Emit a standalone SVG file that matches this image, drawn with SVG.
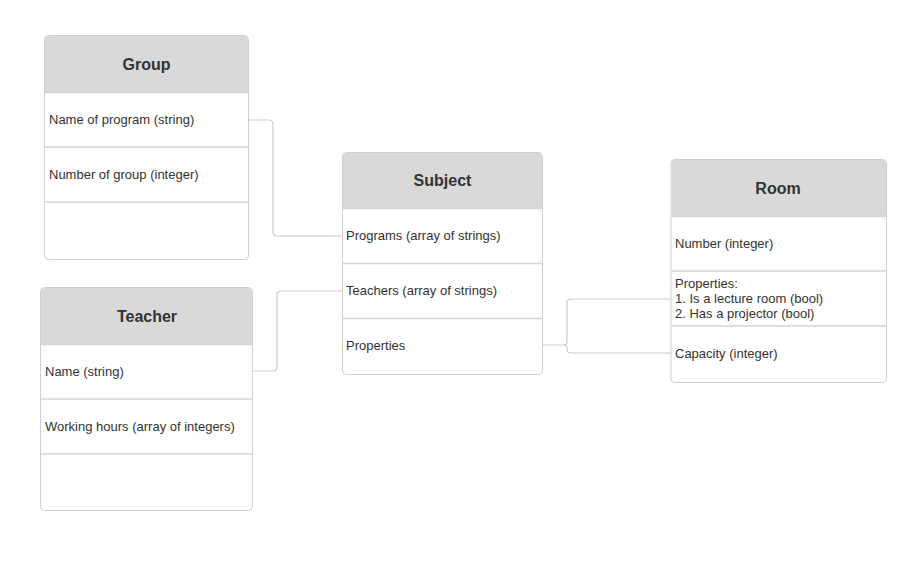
<svg xmlns="http://www.w3.org/2000/svg" width="921" height="571" viewBox="0 0 921 571">
<style>
.box{fill:#ffffff;stroke:#cfcfcf;stroke-width:1}
.hdr{fill:#d9d9d9;stroke:none}
.sep{stroke:#d4d4d4;stroke-width:1.5;fill:none}
.title{font-family:"Liberation Sans",Arial,sans-serif;font-size:16px;font-weight:bold;fill:#333333;text-anchor:middle}
.row{font-family:"Liberation Sans",Arial,sans-serif;font-size:13px;fill:#333333}
.conn{fill:none;stroke:#cccccc;stroke-width:1.2}
</style>
<rect width="921" height="571" fill="#ffffff"/>
<g id="connectors">
<path class="conn" d="M249,120 H269 Q273,120 273,124 V232 Q273,236 277,236 H342"/>
<path class="conn" d="M252.5,371 H273 Q277,371 277,367 V295 Q277,291 281,291 H342"/>
<path class="conn" d="M543,345 H564 Q567,345 567,342 V303 Q567,299 571,299 H671"/>
<path class="conn" d="M564,345 Q567,345 567,348 V349 Q567,353 571,353 H671"/>
</g>
<g id="group">
<rect class="box" x="44.5" y="35.5" width="204" height="224" rx="4"/>
<path class="hdr" d="M45,92 V40 Q45,36 49,36 H244 Q248,36 248,40 V92 Z"/>
<line class="sep" x1="45" y1="92.5" x2="248" y2="92.5"/>
<line class="sep" x1="45" y1="147" x2="248" y2="147"/>
<line class="sep" x1="45" y1="202" x2="248" y2="202"/>
<text class="title" x="146.5" y="70">Group</text>
<text class="row" x="49" y="123.5">Name of program (string)</text>
<text class="row" x="49" y="178.5">Number of group (integer)</text>
</g>
<g id="teacher">
<rect class="box" x="40.5" y="287.5" width="212" height="223" rx="4"/>
<path class="hdr" d="M41,344 V292 Q41,288 45,288 H248 Q252,288 252,292 V344 Z"/>
<line class="sep" x1="41" y1="344.5" x2="252" y2="344.5"/>
<line class="sep" x1="41" y1="399" x2="252" y2="399"/>
<line class="sep" x1="41" y1="454" x2="252" y2="454"/>
<text class="title" x="147" y="322">Teacher</text>
<text class="row" x="45" y="375.5">Name (string)</text>
<text class="row" x="45" y="430.5">Working hours (array of integers)</text>
</g>
<g id="subject">
<rect class="box" x="342.5" y="152.5" width="200" height="222" rx="4"/>
<path class="hdr" d="M343,208 V157 Q343,153 347,153 H538 Q542,153 542,157 V208 Z"/>
<line class="sep" x1="343" y1="208.5" x2="542" y2="208.5"/>
<line class="sep" x1="343" y1="263.5" x2="542" y2="263.5"/>
<line class="sep" x1="343" y1="318.5" x2="542" y2="318.5"/>
<text class="title" x="442.5" y="186">Subject</text>
<text class="row" x="346" y="239.5">Programs (array of strings)</text>
<text class="row" x="346" y="294.5">Teachers (array of strings)</text>
<text class="row" x="346" y="349.5">Properties</text>
</g>
<g id="room">
<rect class="box" x="671" y="159.5" width="215.5" height="223" rx="4"/>
<path class="hdr" d="M671.5,216 V164 Q671.5,160 675.5,160 H882 Q886,160 886,164 V216 Z"/>
<line class="sep" x1="671.5" y1="216.5" x2="886" y2="216.5"/>
<line class="sep" x1="671.5" y1="271" x2="886" y2="271"/>
<line class="sep" x1="671.5" y1="326" x2="886" y2="326"/>
<text class="title" x="778" y="194">Room</text>
<text class="row" x="675" y="247.5">Number (integer)</text>
<text class="row" x="675" y="287.5">Properties:</text>
<text class="row" x="675" y="302.5">1. Is a lecture room (bool)</text>
<text class="row" x="675" y="317.5">2. Has a projector (bool)</text>
<text class="row" x="675" y="357.5">Capacity (integer)</text>
</g>
</svg>
